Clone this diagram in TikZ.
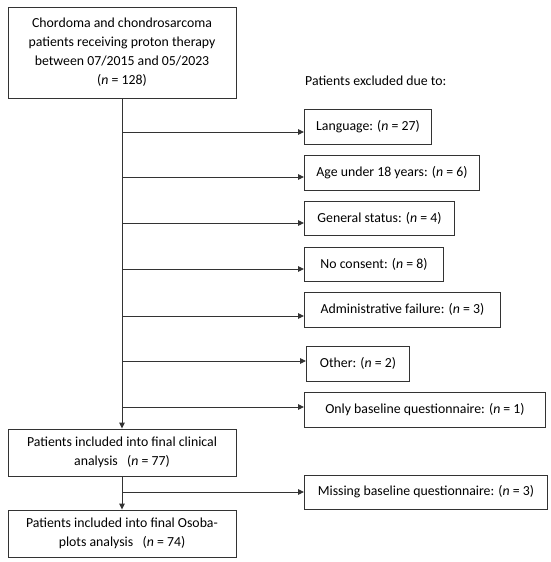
\documentclass[tikz,border=0pt]{standalone}
\usepackage{fontspec}
\setmainfont{Carlito}
\usetikzlibrary{arrows.meta}
\begin{document}
\begin{tikzpicture}[x=1pt,y=-1pt,
  box/.style={draw=black!80, line width=0.9pt, rectangle, inner sep=0pt, align=center,
    font=\fontsize{13.8}{19}\selectfont},
  side/.style={box, anchor=west, minimum height=35pt},
  conn/.style={draw=black!80, line width=0.9pt},
  arr/.style={conn, -{Triangle[length=6pt,width=5.5pt]}}]
\useasboundingbox (0,0) rectangle (550,562);
\node[box, minimum width=228pt, minimum height=91pt] (top) at (122,52.5)
  {Chordoma and chondrosarcoma\\patients receiving proton therapy\\between 07/2015 and 05/2023\\(\textit{n} = 128)};
\node[box, minimum width=228pt, minimum height=47pt] (clin) at (122,452.5)
  {Patients included into final clinical\\analysis \ \ (\textit{n} = 77)};
\node[box, minimum width=228pt, minimum height=47pt] (oso) at (122,533.5)
  {Patients included into final Osoba-\\plots analysis \ \ (\textit{n} = 74)};
\node[anchor=west, inner sep=0pt, font=\fontsize{13.8}{16}\selectfont] (hdr) at (305,81) {Patients excluded due to:};
\node[side, minimum width=127pt] (lang) at (304,126.5) {Language: (\textit{n} = 27)};
\node[side, minimum width=175pt] (age) at (304,172.5) {Age under 18 years: (\textit{n} = 6)};
\node[side, minimum width=150pt, minimum height=34pt] (gen) at (304,218) {General status: (\textit{n} = 4)};
\node[side, minimum width=139pt, minimum height=34pt] (cons) at (304,264) {No consent: (\textit{n} = 8)};
\node[side, minimum width=196pt] (adm) at (304,309.5) {Administrative failure: (\textit{n} = 3)};
\node[side, minimum width=103pt] (oth) at (306,363.5) {Other: (\textit{n} = 2)};
\node[side, minimum width=241pt] (only) at (304,409.5) {Only baseline questionnaire: (\textit{n} = 1)};
\node[side, minimum width=243pt, minimum height=34pt] (miss) at (304,492) {Missing baseline questionnaire: (\textit{n} = 3)};
\coordinate (r1) at (0,132);
\coordinate (r2) at (0,177);
\coordinate (r3) at (0,223);
\coordinate (r4) at (0,269);
\coordinate (r5) at (0,316);
\coordinate (r6) at (0,361);
\coordinate (r7) at (0,407);
\coordinate (r8) at (0,492);
\draw[arr] (top.south) -- (clin.north);
\draw[arr] (clin.south) -- (oso.north);
\draw[arr] (top.south |- r1) -- (lang.west |- r1);
\draw[arr] (top.south |- r2) -- (age.west |- r2);
\draw[arr] (top.south |- r3) -- (gen.west |- r3);
\draw[arr] (top.south |- r4) -- (cons.west |- r4);
\draw[arr] (top.south |- r5) -- (adm.west |- r5);
\draw[arr] (top.south |- r6) -- (oth.west |- r6);
\draw[arr] (top.south |- r7) -- (only.west |- r7);
\draw[arr] (clin.south |- r8) -- (miss.west |- r8);
\end{tikzpicture}
\end{document}
